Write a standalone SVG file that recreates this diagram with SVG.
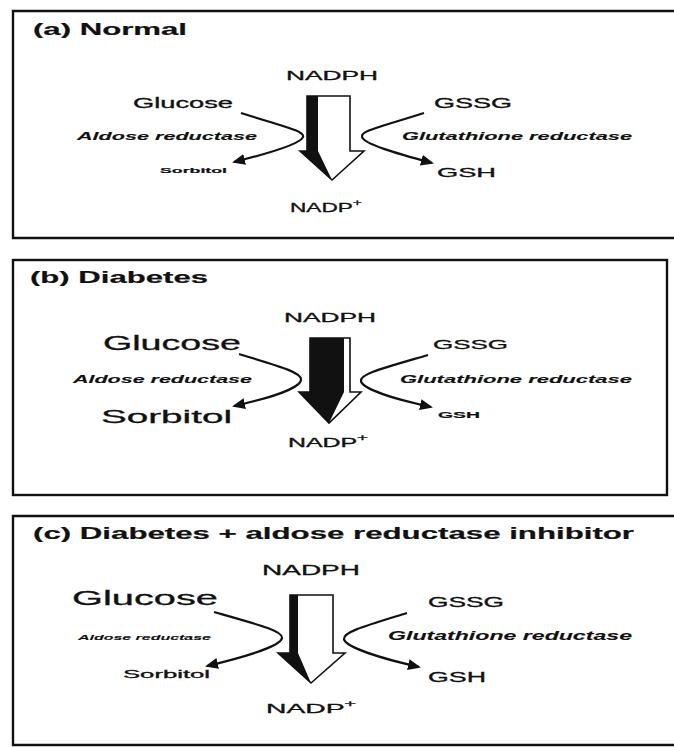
<svg xmlns="http://www.w3.org/2000/svg" width="674" height="747" viewBox="0 0 674 747">
<style>
text{font-family:"Liberation Sans",Arial,sans-serif;fill:#111;stroke:#111;stroke-width:0.3}
.t{font-weight:bold;stroke-width:0.2}
.e{font-weight:bold;font-style:italic;stroke-width:0.1}
.frame{fill:none;stroke:#111;stroke-width:2.4}
.cv{fill:none;stroke:#111;stroke-width:2.2;marker-end:url(#ah)}
.bw{fill:#fff;stroke:#111;stroke-width:1.6;stroke-linejoin:miter}
.bk{fill:#111}
</style>
<defs>
<marker id="ah" markerUnits="userSpaceOnUse" markerWidth="13" markerHeight="11" refX="11" refY="5.5" orient="auto">
<path d="M0,0 L13,5.5 L0,11 Z" fill="#111"/>
</marker>
</defs>
<rect width="674" height="747" fill="#fff"/>

<g id="frames">
<path class="frame" d="M674,11 H13 V238 H674"/>
<rect class="frame" x="13" y="260" width="654" height="235"/>
<path class="frame" d="M674,516 H13 V745 H674"/>
</g>

<g id="panel-a">
<g id="a-title"><text class="t" x="33" y="35" font-size="17" textLength="154" lengthAdjust="spacingAndGlyphs">(a) Normal</text></g>
<g id="a-nadph"><text x="286" y="80" font-size="13" textLength="92" lengthAdjust="spacingAndGlyphs">NADPH</text></g>
<g id="a-glucose"><text x="133" y="108" font-size="14" textLength="100" lengthAdjust="spacingAndGlyphs">Glucose</text></g>
<g id="a-gssg"><text x="434" y="108" font-size="14" textLength="78" lengthAdjust="spacingAndGlyphs">GSSG</text></g>
<g id="a-ar"><text class="e" x="77" y="140" font-size="10" textLength="180" lengthAdjust="spacingAndGlyphs">Aldose reductase</text></g>
<g id="a-gr"><text class="e" x="402" y="140" font-size="10" textLength="230" lengthAdjust="spacingAndGlyphs">Glutathione reductase</text></g>
<g id="a-sorbitol"><text class="t" x="160" y="173" font-size="8" textLength="67" lengthAdjust="spacingAndGlyphs">Sorbitol</text></g>
<g id="a-gsh"><text x="437" y="177" font-size="13" textLength="59" lengthAdjust="spacingAndGlyphs">GSH</text></g>
<g id="a-nadp"><text x="290" y="212" font-size="13" textLength="72" lengthAdjust="spacingAndGlyphs">NADP<tspan dy="-6" font-size="9">+</tspan></text></g>
</g>

<g id="panel-b">
<g id="b-title"><text class="t" x="30" y="283" font-size="17" textLength="178" lengthAdjust="spacingAndGlyphs">(b) Diabetes</text></g>
<g id="b-nadph"><text x="284" y="322" font-size="13" textLength="92" lengthAdjust="spacingAndGlyphs">NADPH</text></g>
<g id="b-glucose"><text x="103" y="350" font-size="20" textLength="138" lengthAdjust="spacingAndGlyphs">Glucose</text></g>
<g id="b-gssg"><text x="433" y="349" font-size="13" textLength="75" lengthAdjust="spacingAndGlyphs">GSSG</text></g>
<g id="b-ar"><text class="e" x="73" y="383" font-size="10" textLength="179" lengthAdjust="spacingAndGlyphs">Aldose reductase</text></g>
<g id="b-gr"><text class="e" x="400" y="383" font-size="10" textLength="232" lengthAdjust="spacingAndGlyphs">Glutathione reductase</text></g>
<g id="b-sorbitol"><text x="101" y="423" font-size="19" textLength="131" lengthAdjust="spacingAndGlyphs">Sorbitol</text></g>
<g id="b-gsh"><text class="t" x="438" y="418" font-size="9" textLength="42" lengthAdjust="spacingAndGlyphs">GSH</text></g>
<g id="b-nadp"><text x="288" y="447" font-size="12" textLength="80" lengthAdjust="spacingAndGlyphs">NADP<tspan dy="-6" font-size="9">+</tspan></text></g>
</g>

<g id="panel-c">
<g id="c-title"><text class="t" x="33" y="539" font-size="17" textLength="601" lengthAdjust="spacingAndGlyphs">(c) Diabetes + aldose reductase inhibitor</text></g>
<g id="c-nadph"><text x="262" y="575" font-size="14" textLength="98" lengthAdjust="spacingAndGlyphs">NADPH</text></g>
<g id="c-glucose"><text x="72" y="605" font-size="21" textLength="146" lengthAdjust="spacingAndGlyphs">Glucose</text></g>
<g id="c-gssg"><text x="428" y="607" font-size="14" textLength="76" lengthAdjust="spacingAndGlyphs">GSSG</text></g>
<g id="c-ar"><text class="e" x="78" y="640" font-size="8" textLength="133" lengthAdjust="spacingAndGlyphs">Aldose reductase</text></g>
<g id="c-gr"><text class="e" x="388" y="640" font-size="12" textLength="244" lengthAdjust="spacingAndGlyphs">Glutathione reductase</text></g>
<g id="c-sorbitol"><text x="123" y="678" font-size="11" textLength="87" lengthAdjust="spacingAndGlyphs">Sorbitol</text></g>
<g id="c-gsh"><text x="428" y="682" font-size="14" textLength="58" lengthAdjust="spacingAndGlyphs">GSH</text></g>
<g id="c-nadp"><text x="266" y="713" font-size="13" textLength="90" lengthAdjust="spacingAndGlyphs">NADP<tspan dy="-6" font-size="9">+</tspan></text></g>
</g>

<g id="connectors">
<g id="a-flux">
<polygon class="bw" points="307,96 350,96 350,151 364,151 332,180 300,151 307,151"/>
<polygon class="bk" points="307,96 318,96 318,151 332,180 300,151 307,151"/>
</g>
<path class="cv" d="M241,113 C285,127 305,131 303,137 C301,144 270,153 234,162"/>
<path class="cv" d="M424,113 C380,127 360,131 362,137 C364,144 395,153 432,163"/>

<g id="b-flux">
<polygon class="bw" points="310,338 350,338 350,392 361,392 329,423 299,392 310,392"/>
<polygon class="bk" points="310,338 344,338 344,392 329,423 299,392 310,392"/>
</g>
<path class="cv" d="M239,354 C285,368 302,373 301,380 C300,388 270,398 234,406"/>
<path class="cv" d="M428,355 C380,369 360,374 361,381 C362,389 395,399 431,407"/>

<g id="c-flux">
<polygon class="bw" points="290,595 333,595 333,653 345,653 311,683 278,653 290,653"/>
<polygon class="bk" points="290,595 298,595 298,653 311,683 278,653 290,653"/>
</g>
<path class="cv" d="M214,612 C260,625 283,631 282,638 C281,646 245,657 207,666"/>
<path class="cv" d="M407,613 C365,626 343,632 344,639 C345,647 380,658 419,667"/>
</g>
</svg>
